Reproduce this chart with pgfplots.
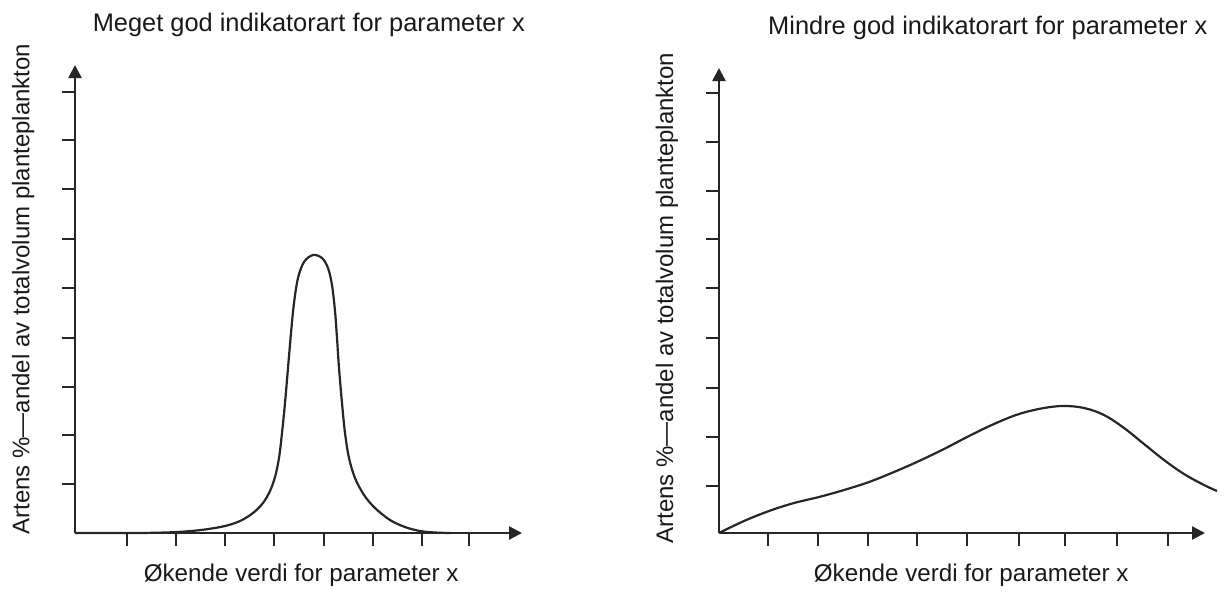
\documentclass[border=0pt]{standalone}
\usepackage{fontspec}
\setmainfont{Liberation Sans}
\usepackage{pgfplots}
\pgfplotsset{compat=1.18}
\usetikzlibrary{arrows.meta}

\pgfplotstableread{
x y
0 0
60 0
90 0.5
110 1.5
130 3.5
150 7
165 12
178 20
188 30
195 42
200 56
204 75
207 100
210 130
213 165
216 200
219 230
223 255
229 271
238 278
247 275
253 265
257 248
260 222
262 195
264 165
267 130
270 100
274 75
280 55
289 38
300 25
315 13
330 6
345 2
360 0.5
375 0
}\leftcurve

\pgfplotstableread{
x y
0 0
25 12
50 22
75 30
100 36
125 43
150 51
175 61
200 72
225 84
250 97
275 109
300 119
325 125
345 127
365 125
385 118
405 105
425 89
445 73
465 59
485 48
498 42
}\rightcurve

\pgfplotsset{
  myaxis/.style={
    axis lines=left,
    x=0.5pt, y=0.5pt,
    xmin=0, ymin=0,
    enlargelimits=false,
    clip=false,
    anchor=south west,
    xticklabels={}, yticklabels={},
    tick align=outside,
    major tick length=6.5pt,
    every tick/.style={black!85, line width=1pt},
    axis line style={black!85, line width=1.2pt, -{Triangle[width=6.5pt,length=6.5pt]}},
    every axis title/.style={anchor=center, font=\fontsize{12.7}{15}\selectfont, text=black!90},
    every axis x label/.style={anchor=center, font=\fontsize{12.1}{14}\selectfont, text=black!90},
    every axis y label/.style={anchor=center, rotate=90, font=\fontsize{12}{14}\selectfont, text=black!90},
  }
}

\begin{document}
\begin{tikzpicture}
\path[use as bounding box] (0,0) rectangle (612pt,295.5pt);

\begin{axis}[myaxis,
  at={(37.5pt,29pt)},
  xmax=447, ymax=468,
  xtick={52,101,150,199,249,298,347,394},
  ytick={49,98,146,195,245,294,344,393,441},
  title={Meget god indikatorart for parameter x},
  title style={at={(axis description cs:0.523,1.085)}},
  xlabel={Økende verdi for parameter x},
  xlabel style={at={(axis description cs:0.506,-0.09)}},
  ylabel={Artens \%—andel av totalvolum planteplankton},
  ylabel style={at={(axis description cs:-0.116,0.521)}},
]
\addplot[black!85, line width=1.1pt, smooth, tension=0.55] table {\leftcurve};
\end{axis}

\begin{axis}[myaxis,
  at={(359.5pt,29pt)},
  xmax=486, ymax=465,
  xtick={49,99,149,198,248,300,346,398,449},
  ytick={47,96,145,195,245,294,342,391,440},
  title={Mindre god indikatorart for parameter x},
  title style={at={(axis description cs:0.553,1.086)}},
  xlabel={Økende verdi for parameter x},
  xlabel style={at={(axis description cs:0.519,-0.09)}},
  ylabel={Artens \%—andel av totalvolum planteplankton},
  ylabel style={at={(axis description cs:-0.107,0.505)}},
]
\addplot[black!85, line width=1.1pt, smooth, tension=0.6] table {\rightcurve};
\end{axis}
\end{tikzpicture}
\end{document}
